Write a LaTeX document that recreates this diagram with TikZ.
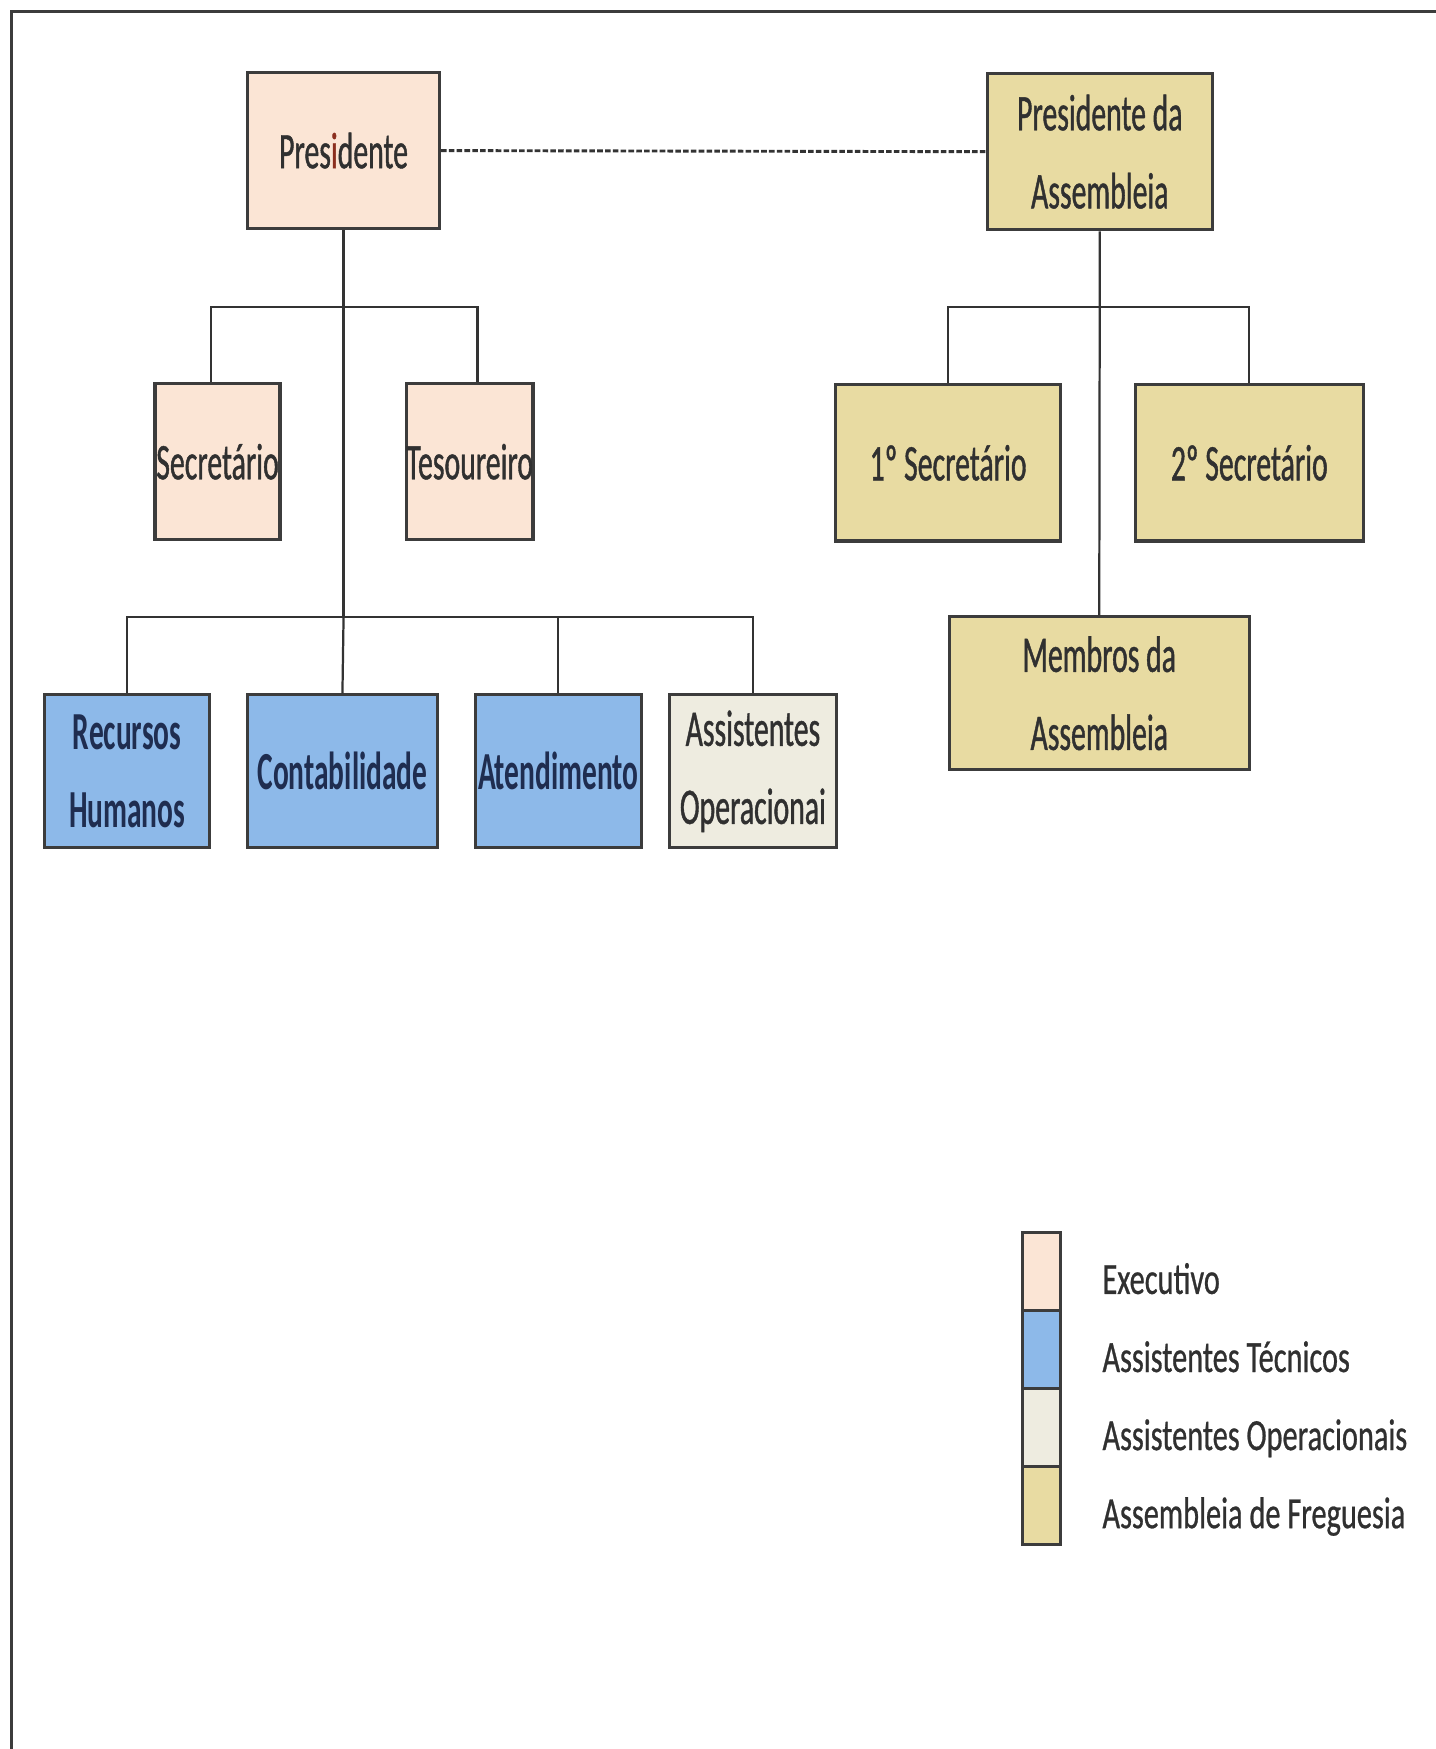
\documentclass[tikz,border=0pt]{standalone}
\usepackage{fontspec}
\newfontfamily\boxfont[FakeStretch=0.58,FakeBold=0.8]{Carlito}
\newfontfamily\tecfont[FakeStretch=0.55]{Carlito}
\newfontfamily\legfont[FakeStretch=0.68,FakeBold=0.6]{Carlito}
\definecolor{cexe}{HTML}{FBE5D5}
\definecolor{ctec}{HTML}{8DB9E9}
\definecolor{cope}{HTML}{EEECE0}
\definecolor{casm}{HTML}{E8DBA2}
\definecolor{bordc}{HTML}{3C3C3C}
\definecolor{linec}{HTML}{333333}
\definecolor{txt}{HTML}{303030}
\definecolor{navy}{HTML}{1F2D50}
\definecolor{ired}{HTML}{8B2E1E}
\tikzset{
  box/.style={draw=bordc, line width=1.4pt, rectangle, inner sep=0pt, align=center,
    font=\boxfont\fontsize{23}{35}\selectfont, text=txt},
  exe/.style={box, fill=cexe},
  tec/.style={box, fill=ctec, text=navy, font=\tecfont\bfseries\fontsize{24}{35}\selectfont},
  ope/.style={box, fill=cope},
  asm/.style={box, fill=casm},
  conn/.style={draw=linec, line width=1pt},
  legbox/.style={draw=bordc, line width=1.4pt, rectangle, inner sep=0pt,
    minimum width=17pt, minimum height=35pt},
  leglabel/.style={anchor=base west, inner sep=0pt, text=txt,
    font=\legfont\fontsize{20}{24}\selectfont}
}
\begin{document}
\begin{tikzpicture}[x=0.5pt,y=-0.5pt]
\useasboundingbox[fill=white] (0,0) rectangle (1287,1568);
% frame
\draw[draw=bordc, line width=1.4pt] (1287,10) -- (10.5,10) -- (10.5,1568);

% executive side
\node[exe, minimum width=86pt, minimum height=70pt] (pres) at (308,135) {Pres\textcolor{ired}{i}dente};
\node[exe, minimum width=56pt, minimum height=70pt] (sec) at (195,414) {Secretário};
\node[exe, minimum width=56pt, minimum height=70pt] (tes) at (421,414) {Tesoureiro};
\node[tec, minimum width=74pt, minimum height=68.5pt] (rh) at (114,691.5) {Recursos\\Humanos};
\node[tec, minimum width=85pt, minimum height=68.5pt] (cont) at (307,691.5) {Contabilidade};
\node[tec, minimum width=74.5pt, minimum height=68.5pt] (aten) at (500.5,691.5) {Atendimento};
\node[ope, minimum width=75pt, minimum height=68.5pt] (ao) at (675,691.5) {Assistentes\\Operacionai};

% assembly side
\node[asm, minimum width=101pt, minimum height=70pt] (pa) at (986,136) {Presidente da\\Assembleia};
\node[asm, minimum width=101pt, minimum height=70pt] (s1) at (850,415) {1º Secretário};
\node[asm, minimum width=102pt, minimum height=70pt] (s2) at (1120,415) {2º Secretário};
\node[asm, minimum width=134.5pt, minimum height=68.5pt] (mem) at (985.5,621.5) {Membros da\\Assembleia};

% connectors (executive)
\coordinate (busA) at (308,275);
\coordinate (busB) at (308,553);
\draw[conn] (pres.south) -- (busB);
\draw[conn] ([xshift=-3pt]sec.north) |- (busA) -| ([xshift=3.5pt]tes.north);
\draw[conn] (rh.north) |- (busB) -| (ao.north);
\draw[conn] (cont.north) -- (busB);
\draw[conn] (aten.north) -- (aten.north |- busB);

% connectors (assembly)
\coordinate (busC) at (986,275);
\draw[conn] (pa.south) -- (mem.north);
\draw[conn] (s1.north) |- (busC) -| (s2.north);

% dotted link
\draw[draw=linec, line width=1.3pt, dash pattern=on 2.5pt off 1pt] (pres.east) -- (pa.west);

% legend
\node[legbox, fill=cexe] (lg1) at (934,1140) {};
\node[legbox, fill=ctec] (lg2) at (934,1210) {};
\node[legbox, fill=cope] (lg3) at (934,1280) {};
\node[legbox, fill=casm] (lg4) at (934,1350) {};
\node[leglabel] (lt1) at (988,1160) {Executivo};
\node[leglabel] (lt2) at (988,1230) {Assistentes Técnicos};
\node[leglabel] (lt3) at (988,1300) {Assistentes Operacionais};
\node[leglabel] (lt4) at (988,1370) {Assembleia de Freguesia};
\end{tikzpicture}
\end{document}
